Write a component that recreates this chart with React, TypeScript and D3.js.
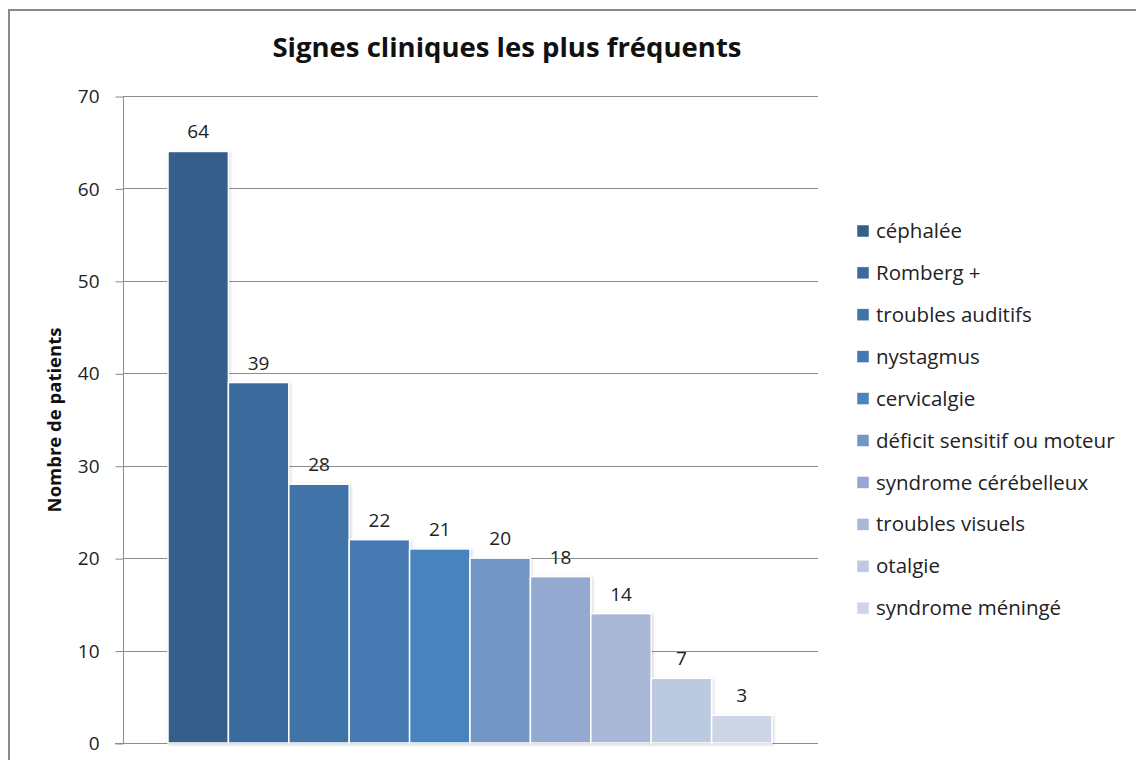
import { useEffect, useRef } from "react";
import * as d3 from "d3";

// Signes cliniques les plus fréquents — one category, ten series
const SIGNS = [
  "céphalée",
  "Romberg +",
  "troubles auditifs",
  "nystagmus",
  "cervicalgie",
  "déficit sensitif ou moteur",
  "syndrome cérébelleux",
  "troubles visuels",
  "otalgie",
  "syndrome méningé",
];
const PATIENTS = [64, 39, 28, 22, 21, 20, 18, 14, 7, 3];
const COLORS = [
  "#345f8a",
  "#3a6a9e",
  "#4073a8",
  "#4679b2",
  "#4a83bd",
  "#7396c6",
  "#94a9cf",
  "#a9b8d6",
  "#bccae0",
  "#cdd6e7",
];
const Y_TICKS = [0, 10, 20, 30, 40, 50, 60, 70];

const FONT = "'Open Sans', Lato, sans-serif";

export default function App() {
  const svgRef = useRef<SVGSVGElement>(null);

  useEffect(() => {
    const width = 1136;
    const height = 760;
    const plot = { left: 123, right: 818, top: 96, bottom: 743 };

    const svg = d3.select(svgRef.current);
    svg.selectAll("*").remove();
    svg.attr("width", width).attr("height", height);

    svg.append("rect").attr("width", width).attr("height", height).attr("fill", "#fff");

    // outer frame
    svg
      .append("rect")
      .attr("x", 9)
      .attr("y", 10)
      .attr("width", width + 20)
      .attr("height", height + 20)
      .attr("fill", "none")
      .attr("stroke", "#8a8a8a")
      .attr("stroke-width", 2);

    const y = d3.scaleLinear().domain([0, 70]).range([plot.bottom, plot.top]);
    const x = d3.scaleBand<string>().domain(SIGNS).range([168, 772]).padding(0);

    // gridlines
    svg
      .append("g")
      .selectAll("line")
      .data(Y_TICKS.filter((t) => t > 0))
      .join("line")
      .attr("x1", plot.left)
      .attr("x2", plot.right)
      .attr("y1", (d) => Math.round(y(d)) + 0.5)
      .attr("y2", (d) => Math.round(y(d)) + 0.5)
      .attr("stroke", "#8c8c8c")
      .attr("stroke-width", 1);

    // y axis
    const yAxis = svg
      .append("g")
      .attr("transform", `translate(${plot.left + 0.5},0.5)`)
      .call(d3.axisLeft(y).tickValues(Y_TICKS).tickSize(8).tickPadding(16));
    yAxis.select(".domain").attr("stroke", "#8c8c8c").attr("d", `M0,${plot.top - 0.5}V${plot.bottom}`);
    yAxis.selectAll(".tick line").attr("stroke", "#8c8c8c");
    yAxis
      .selectAll(".tick text")
      .attr("font-family", FONT)
      .attr("font-size", 19)
      .attr("fill", "#222");

    // x axis baseline
    svg
      .append("line")
      .attr("x1", plot.left - 8)
      .attr("x2", plot.right)
      .attr("y1", plot.bottom + 0.5)
      .attr("y2", plot.bottom + 0.5)
      .attr("stroke", "#8c8c8c");

    // shadow filter
    const defs = svg.append("defs");
    const f = defs
      .append("filter")
      .attr("id", "shadow")
      .attr("x", "-20%")
      .attr("y", "-20%")
      .attr("width", "140%")
      .attr("height", "140%");
    f.append("feDropShadow")
      .attr("dx", 1)
      .attr("dy", 1)
      .attr("stdDeviation", 1.5)
      .attr("flood-color", "#000")
      .attr("flood-opacity", 0.18);

    // bars
    svg
      .append("g")
      .attr("filter", "url(#shadow)")
      .selectAll("rect")
      .data(SIGNS)
      .join("rect")
      .attr("x", (d) => x(d)!)
      .attr("y", (_, i) => y(PATIENTS[i]))
      .attr("width", x.bandwidth())
      .attr("height", (_, i) => plot.bottom - y(PATIENTS[i]))
      .attr("fill", (_, i) => COLORS[i])
      .attr("stroke", "#fff")
      .attr("stroke-width", 1.5);

    // data labels
    svg
      .append("g")
      .selectAll("text")
      .data(SIGNS)
      .join("text")
      .attr("x", (d) => x(d)! + x.bandwidth() / 2)
      .attr("y", (_, i) => y(PATIENTS[i]) - 13)
      .attr("text-anchor", "middle")
      .attr("font-family", FONT)
      .attr("font-size", 19)
      .attr("fill", "#222")
      .text((_, i) => PATIENTS[i]);

    // title
    svg
      .append("text")
      .attr("x", 507)
      .attr("y", 57)
      .attr("text-anchor", "middle")
      .attr("font-family", FONT)
      .attr("font-weight", "bold")
      .attr("font-size", 27.5)
      .attr("fill", "#111")
      .text("Signes cliniques les plus fréquents");

    // y label
    svg
      .append("text")
      .attr("transform", `translate(61,420) rotate(-90)`)
      .attr("text-anchor", "middle")
      .attr("font-family", FONT)
      .attr("font-weight", "bold")
      .attr("font-size", 18.5)
      .attr("fill", "#111")
      .text("Nombre de patients");

    // legend
    const legend = svg
      .append("g")
      .selectAll("g")
      .data(SIGNS)
      .join("g")
      .attr("transform", (_, i) => `translate(857,${231 + i * 41.9})`);
    legend
      .append("rect")
      .attr("x", 0)
      .attr("y", -6)
      .attr("width", 12)
      .attr("height", 12)
      .attr("fill", (_, i) => COLORS[i])
      .attr("stroke", "#fff")
      .attr("stroke-width", 0.5);
    legend
      .append("text")
      .attr("x", 19)
      .attr("y", 0)
      .attr("dy", "0.35em")
      .attr("font-family", FONT)
      .attr("font-size", 20.5)
      .attr("fill", "#222")
      .text((d) => d);
  }, []);

  return (
    <svg
      ref={svgRef}
      style={{ position: "absolute", left: 0, top: 0, display: "block" }}
    />
  );
}
